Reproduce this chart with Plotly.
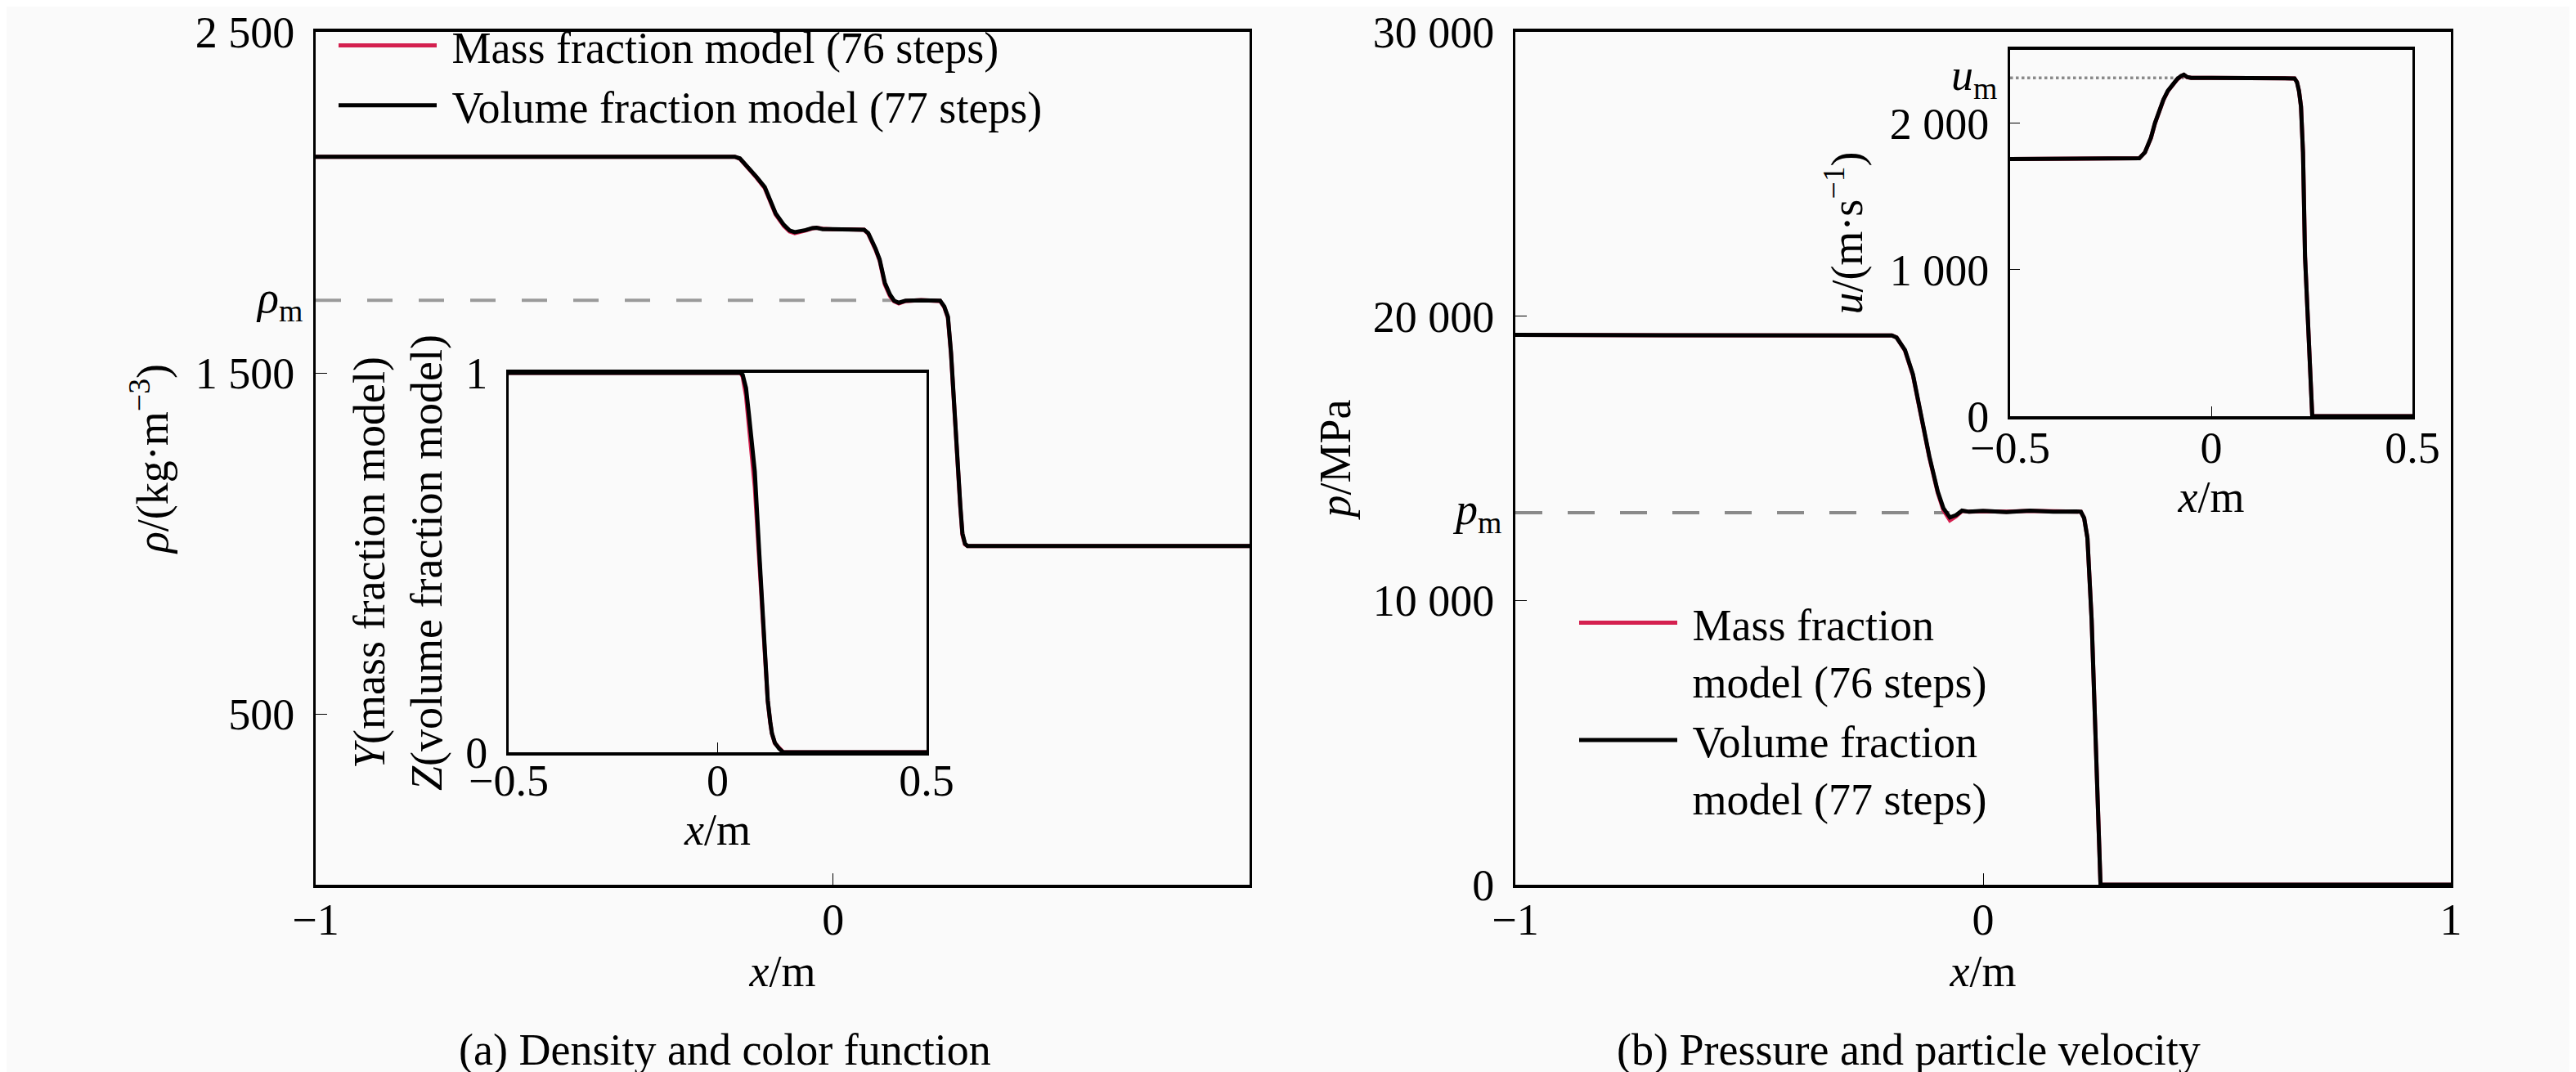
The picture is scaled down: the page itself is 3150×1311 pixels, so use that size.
import plotly.graph_objects as go

FONT = "Liberation Serif"
BG = "#FAFAFA"
RED = "#D4204F"

# ---------------- data ----------------
# (a) density, main panel
x_rho = [-1.0, -0.19, -0.18, -0.164, -0.148, -0.132, -0.12, -0.111, -0.095, -0.084, -0.074,
         -0.063, -0.053, -0.04, -0.032, -0.02, 0.0, 0.03, 0.06, 0.068, 0.075, 0.082, 0.09,
         0.1, 0.11, 0.118, 0.127, 0.14, 0.17, 0.2, 0.207, 0.215, 0.222, 0.228, 0.232, 0.24,
         0.246, 0.25, 0.255, 0.26, 0.27, 0.807]
rho_volume = [2134, 2134, 2129, 2104, 2075, 2045, 2005, 1968, 1934, 1918, 1913,
              1915, 1919, 1925, 1926, 1922, 1921, 1920, 1920, 1910, 1890, 1865, 1833,
              1765, 1730, 1712, 1706, 1712, 1713, 1713, 1712, 1695, 1665, 1560, 1453, 1241,
              1110, 1030, 1000, 993, 993, 993]
rho_mass = [2134, 2134, 2128, 2102, 2073, 2042, 2002, 1965, 1931, 1915, 1910,
            1913, 1918, 1924, 1926, 1923, 1921, 1921, 1920, 1908, 1887, 1862, 1830,
            1760, 1726, 1710, 1704, 1711, 1714, 1712, 1711, 1693, 1662, 1555, 1448, 1236,
            1105, 1026, 998, 993, 993, 993]
rho_m = 1713

# (a) inset: colour function
x_frac = [-0.5, 0.055, 0.06, 0.068, 0.075, 0.082, 0.089, 0.1, 0.112, 0.12, 0.126, 0.13,
          0.137, 0.147, 0.157, 0.5]
Z_volume = [1, 1, 0.995, 0.96, 0.89, 0.82, 0.74, 0.52, 0.27, 0.137, 0.08, 0.05,
            0.025, 0.01, 0.0, 0.0]
Y_mass = [1, 1, 0.99, 0.94, 0.86, 0.78, 0.70, 0.50, 0.262, 0.134, 0.078, 0.049,
          0.024, 0.01, 0.0, 0.0]

# (b) pressure, main panel
x_p = [-1.0, -0.202, -0.195, -0.185, -0.167, -0.15, -0.132, -0.115, -0.097, -0.085, -0.071,
       -0.058, -0.045, -0.03, 0.0, 0.05, 0.1, 0.15, 0.2, 0.209, 0.216, 0.223, 0.232,
       0.24, 0.246, 0.251, 1.0]
p_volume = [19340, 19340, 19320, 19250, 18810, 17950, 16510, 15070, 13830, 13250, 12920,
            13000, 13160, 13120, 13150, 13110, 13160, 13120, 13130, 13120, 12900, 12200, 9320,
            5600, 2700, 0, 0]
p_mass = [19340, 19340, 19320, 19250, 18790, 17920, 16480, 15040, 13790, 13180, 12820,
          12960, 13150, 13120, 13140, 13120, 13150, 13130, 13120, 13120, 12900, 12200, 9320,
          5600, 2700, 0, 0]
p_m = 13090

# (b) inset: particle velocity
x_u = [-0.5, -0.185, -0.179, -0.165, -0.15, -0.14, -0.13, -0.119, -0.108, -0.098, -0.085,
       -0.075, -0.068, -0.06, -0.05, 0.0, 0.1, 0.2, 0.207, 0.213, 0.218, 0.223, 0.228,
       0.233, 0.24, 0.246, 0.251, 0.5]
u_volume = [1755, 1755, 1760, 1800, 1900, 2000, 2080, 2160, 2220, 2260, 2300,
            2322, 2331, 2315, 2309, 2309, 2309, 2309, 2305, 2280, 2220, 2114, 1800,
            1090, 650, 300, 0, 0]
u_mass = [1755, 1755, 1760, 1800, 1898, 1998, 2078, 2158, 2218, 2258, 2298,
          2320, 2329, 2314, 2309, 2309, 2309, 2309, 2305, 2280, 2220, 2114, 1800,
          1090, 650, 300, 0, 0]
u_m = 2309

# tick labels
rho_ticks = [500, 1500, 2500]
rho_ticktext = ["500", "1 500", "2 500"]
p_ticks = [0, 10000, 20000, 30000]
p_ticktext = ["0", "10 000", "20 000", "30 000"]
u_ticks = [0, 1000, 2000]
u_ticktext = ["0", "1 000", "2 000"]

NB = "\u00a0"
name_mass = NB + "Mass fraction model (76 steps)"
name_vol = NB + "Volume fraction model (77 steps)"
name_mass_b = NB + "Mass fraction<br>" + NB + "model (76 steps)"
name_vol_b = NB + "Volume fraction<br>" + NB + "model (77 steps)"

W, H = 3150, 1311
LW = 5

fig = go.Figure()

# reference lines
fig.add_trace(go.Scatter(x=[-1.0, 0.12], y=[rho_m, rho_m], mode="lines", showlegend=False,
                         line=dict(color="#9a9a9a", width=4, dash="31px,32px"),
                         xaxis="x", yaxis="y", hoverinfo="skip"))
fig.add_trace(go.Scatter(x=[-1.0, -0.072], y=[p_m, p_m], mode="lines", showlegend=False,
                         line=dict(color="#8a8a8a", width=4, dash="33px,31px"),
                         xaxis="x3", yaxis="y3", hoverinfo="skip"))
fig.add_trace(go.Scatter(x=[-0.5, -0.068], y=[u_m, u_m], mode="lines", showlegend=False,
                         line=dict(color="#8a8a8a", width=3.5, dash="dot"),
                         xaxis="x4", yaxis="y4", hoverinfo="skip"))

# (a) main
fig.add_trace(go.Scatter(x=x_rho, y=rho_mass, mode="lines", name=name_mass,
                         line=dict(color=RED, width=LW), xaxis="x", yaxis="y", legend="legend"))
fig.add_trace(go.Scatter(x=x_rho, y=rho_volume, mode="lines", name=name_vol,
                         line=dict(color="black", width=LW), xaxis="x", yaxis="y", legend="legend"))
# (a) inset
fig.add_trace(go.Scatter(x=x_frac, y=Y_mass, mode="lines", showlegend=False,
                         line=dict(color=RED, width=LW), xaxis="x2", yaxis="y2"))
fig.add_trace(go.Scatter(x=x_frac, y=Z_volume, mode="lines", showlegend=False,
                         line=dict(color="black", width=LW), xaxis="x2", yaxis="y2"))
# (b) main
fig.add_trace(go.Scatter(x=x_p, y=p_mass, mode="lines", name=name_mass_b,
                         line=dict(color=RED, width=LW), xaxis="x3", yaxis="y3", legend="legend2"))
fig.add_trace(go.Scatter(x=x_p, y=p_volume, mode="lines", name=name_vol_b,
                         line=dict(color="black", width=LW), xaxis="x3", yaxis="y3", legend="legend2"))
# (b) inset
fig.add_trace(go.Scatter(x=x_u, y=u_mass, mode="lines", showlegend=False,
                         line=dict(color=RED, width=LW), xaxis="x4", yaxis="y4"))
fig.add_trace(go.Scatter(x=x_u, y=u_volume, mode="lines", showlegend=False,
                         line=dict(color="black", width=LW), xaxis="x4", yaxis="y4"))


def px_x(a, b):
    return [a / W, b / W]


def px_y(top, bottom):
    return [1 - bottom / H, 1 - top / H]


tf = dict(family=FONT, size=54, color="black")
common = dict(showline=True, mirror=True, linecolor="black", showgrid=False, zeroline=False,
              ticks="inside", tickcolor="black", tickfont=tf, title_font=tf, automargin=False)

layout = dict(
    width=W, height=H, margin=dict(l=0, r=0, t=0, b=0, pad=0),
    paper_bgcolor=BG, plot_bgcolor="rgba(0,0,0,0)",
    font=dict(family=FONT, size=54, color="black"),
    xaxis=dict(common, domain=px_x(378, 1520), anchor="y", range=[-1, 0.805],
               tickvals=[-1, 0], ticktext=["\u22121", "0"], ticklen=14, linewidth=4,
               ticklabelstandoff=-8,
               title=dict(text="<i>x</i>/m", standoff=15)),
    yaxis=dict(common, domain=px_y(31, 1074), anchor="x", range=[0, 2500],
               tickvals=rho_ticks, ticktext=rho_ticktext, ticklen=14, linewidth=3,
               ticklabelstandoff=12,
               title=dict(text="<i>ρ</i>/(kg·m<sup>−3</sup>)", standoff=16)),
    xaxis2=dict(common, domain=px_x(614, 1125), anchor="y2", range=[-0.5, 0.5],
                tickvals=[-0.5, 0, 0.5], ticktext=["\u22120.5", "0", "0.5"], ticklen=12,
                linewidth=4, ticklabelstandoff=-16,
                title=dict(text="<i>x</i>/m", standoff=10)),
    yaxis2=dict(common, domain=px_y(448, 912), anchor="x2", range=[0, 1],
                tickvals=[0, 1], ticktext=["0", "1"], ticklen=12, linewidth=3,
                ticklabelstandoff=12,
                title=dict(text="<i>Y</i>(mass fraction model)<br><i>Z</i>(volume fraction model)",
                           standoff=12)),
    xaxis3=dict(common, domain=px_x(1845, 2989), anchor="y3", range=[-1, 1],
                tickvals=[-1, 0, 1], ticktext=["\u22121", "0", "1"], ticklen=14, linewidth=4,
                ticklabelstandoff=-8,
                title=dict(text="<i>x</i>/m", standoff=15)),
    yaxis3=dict(common, domain=px_y(31, 1074), anchor="x3", range=[0, 30000],
                tickvals=p_ticks, ticktext=p_ticktext, ticklen=14, linewidth=3,
                ticklabelstandoff=12,
                title=dict(text="<i>p</i>/MPa", standoff=10)),
    xaxis4=dict(common, domain=px_x(2450, 2942), anchor="y4", range=[-0.5, 0.5],
                tickvals=[-0.5, 0, 0.5], ticktext=["\u22120.5", "0", "0.5"], ticklen=12,
                linewidth=4, ticklabelstandoff=-12,
                title=dict(text="<i>x</i>/m", standoff=10)),
    yaxis4=dict(common, domain=px_y(53, 501), anchor="x4", range=[0, 2500],
                tickvals=u_ticks, ticktext=u_ticktext, ticklen=12, linewidth=3,
                ticklabelstandoff=12,
                title=dict(text="<i>u</i>/(m·s<sup>−1</sup>)", standoff=16)),
    legend=dict(x=401 / W, xanchor="left", y=1 - 6 / H, yanchor="top",
                bgcolor="rgba(0,0,0,0)", borderwidth=0, font=tf, itemwidth=120,
                tracegroupgap=0),
    legend2=dict(x=1918 / W, xanchor="left", y=1 - 712 / H, yanchor="top",
                 bgcolor="rgba(0,0,0,0)", borderwidth=0, font=tf, itemwidth=120,
                 valign="top", tracegroupgap=0),
    showlegend=True,
)
fig.update_layout(**layout)

# marker labels for reference lines
fig.add_annotation(x=364 / W, xref="paper", xanchor="right", y=rho_m, yref="y",
                   yanchor="middle", text="<i>ρ</i><sub>m</sub>", showarrow=False, font=tf)
fig.add_annotation(x=1830 / W, xref="paper", xanchor="right", y=p_m, yref="y3",
                   yanchor="middle", text="<i>p</i><sub>m</sub>", showarrow=False, font=tf)
fig.add_annotation(x=2436 / W, xref="paper", xanchor="right", y=u_m, yref="y4",
                   yanchor="middle", text="<i>u</i><sub>m</sub>", showarrow=False, font=tf)

# captions
fig.add_annotation(x=878 / W, y=1 - 1276 / H, xref="paper", yref="paper", showarrow=False,
                   text="(a) Density and color function", font=tf, xanchor="center",
                   yanchor="middle")
fig.add_annotation(x=2326 / W, y=1 - 1276 / H, xref="paper", yref="paper", showarrow=False,
                   text="(b) Pressure and particle velocity", font=tf, xanchor="center",
                   yanchor="middle")

fig.write_html("out.html")
